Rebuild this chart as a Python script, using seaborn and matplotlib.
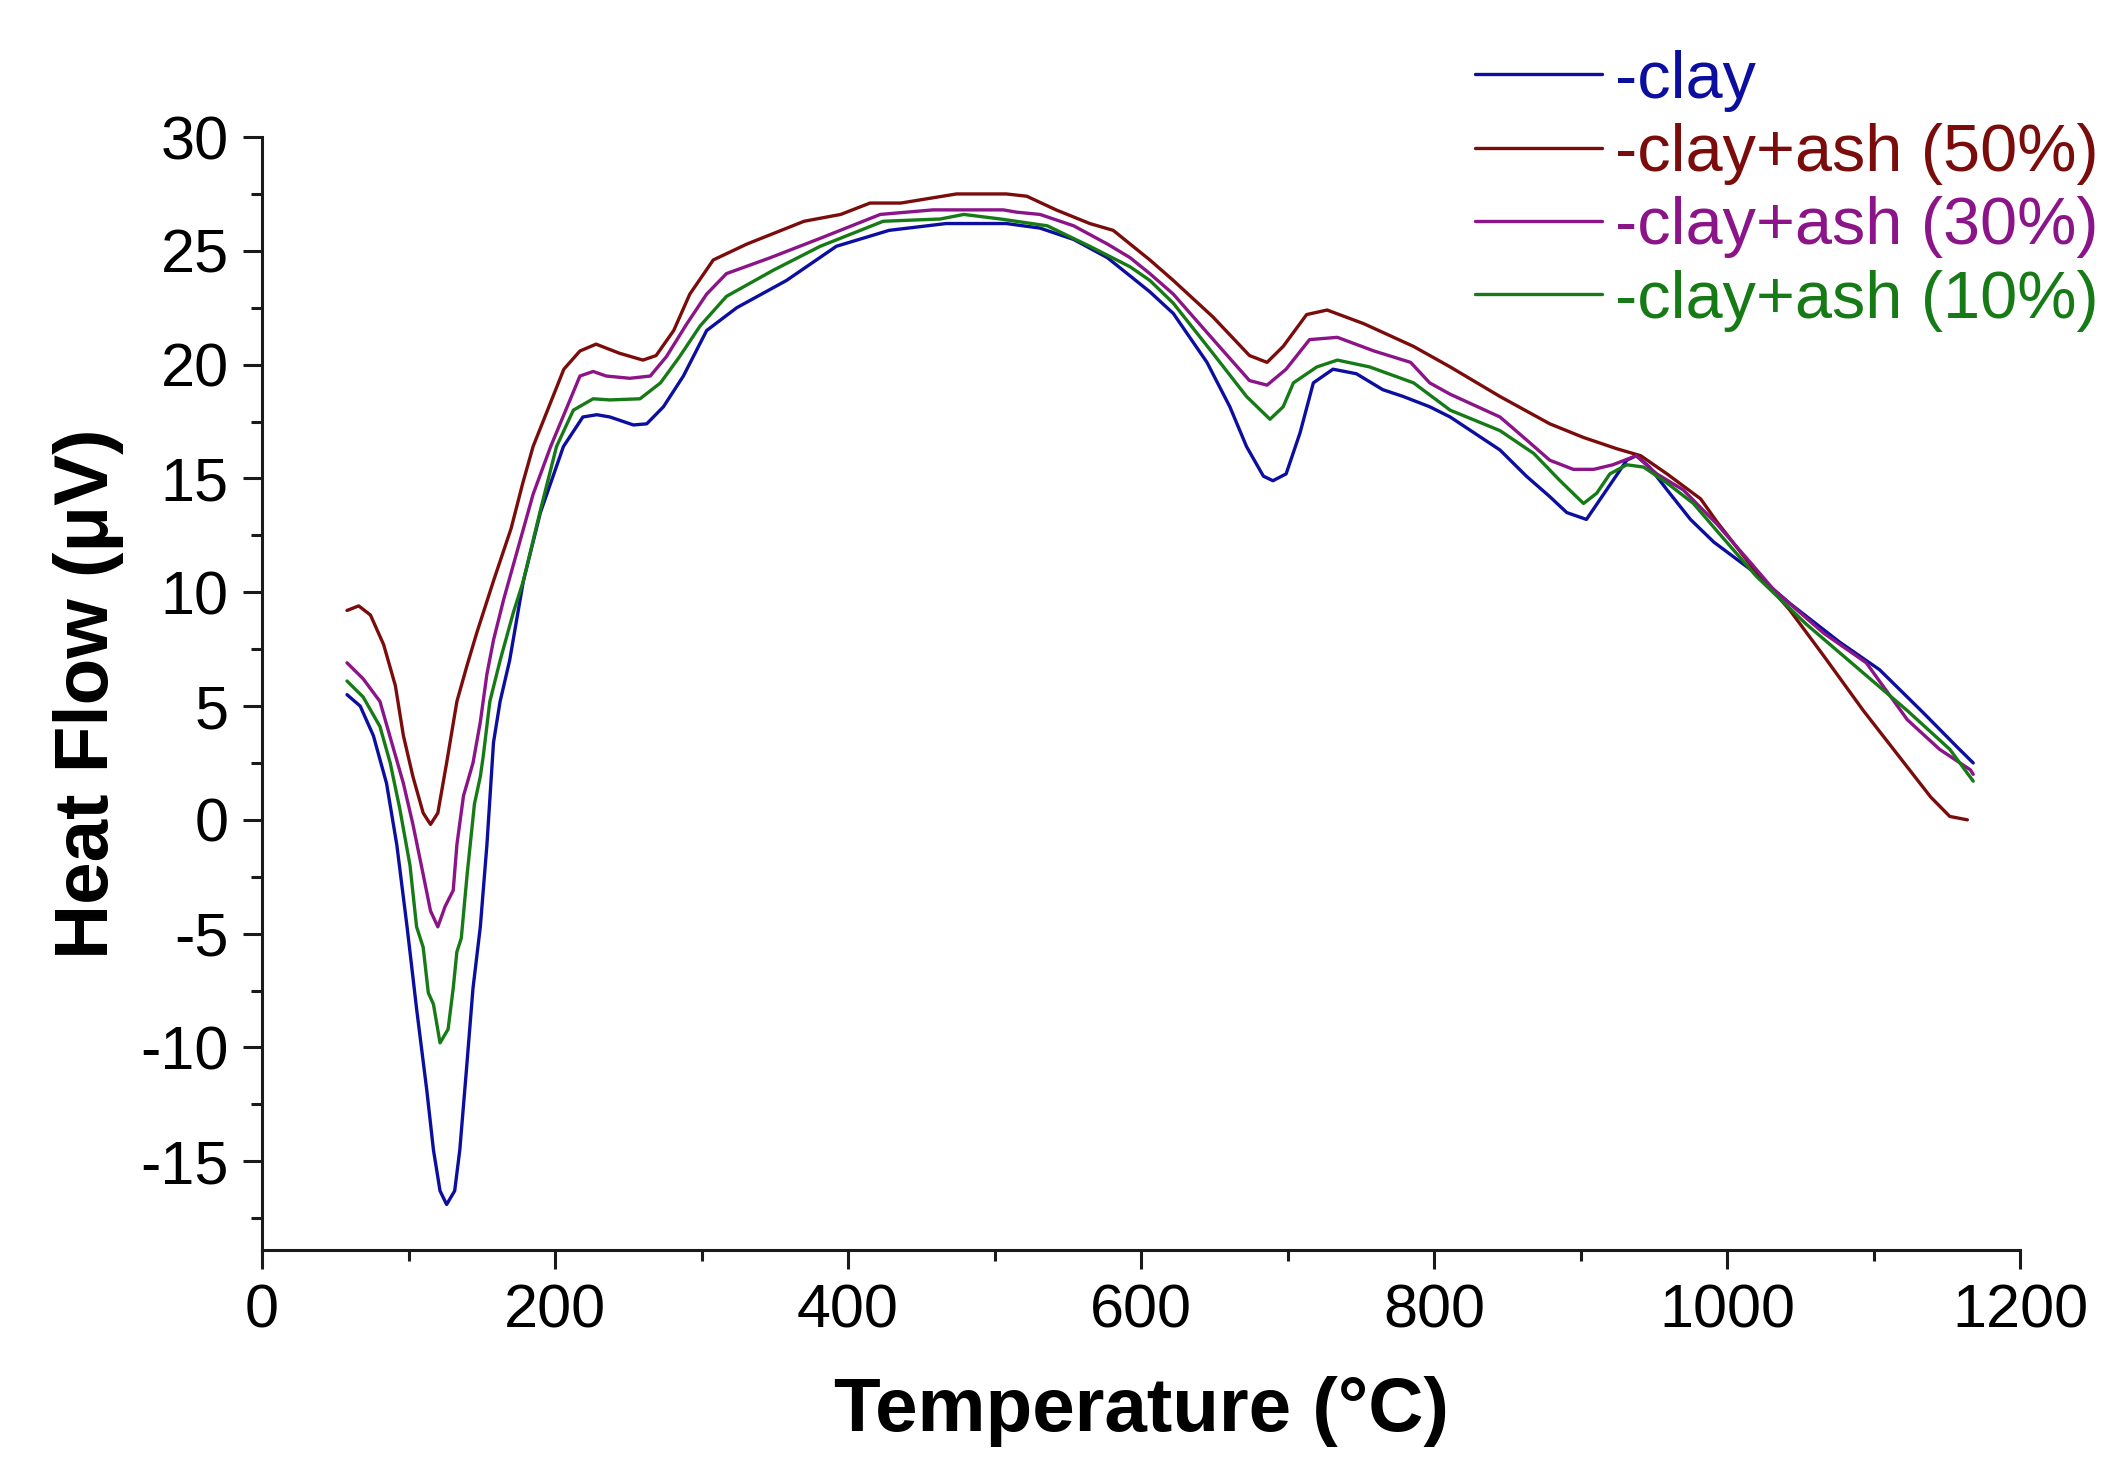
import seaborn as sns
import matplotlib.pyplot as plt
import pandas as pd

# temperatures (deg C) and heat flow readings (uV)
temp_clay = [58, 67, 76, 85, 92, 99, 105.5, 112.5, 117, 121.5, 126, 131.5, 135, 139.5, 144, 149,
             153.5, 158, 162.5, 169, 178.4, 190, 205.7, 219, 228.5, 237.5, 253.5, 262.6, 274, 287.6,
             303.5, 324, 358, 392, 428, 467, 508, 531, 554, 577, 592.5, 606, 622, 645, 660.6, 672,
             683.5, 690, 699, 708.5, 717.6, 731, 747, 765, 779, 797, 811, 845, 863, 879, 890.6, 904,
             913, 922, 931.5, 938, 947, 959, 975, 991, 1016, 1043, 1077, 1104, 1134, 1157, 1168]
hf_clay = [5.5, 5.0, 3.7, 1.6, -1.1, -4.7, -8.3, -11.9, -14.5, -16.3, -16.9, -16.3, -14.5, -11.0,
           -7.4, -4.7, -1.1, 3.4, 5.2, 7.0, 10.5, 13.5, 16.4, 17.7, 17.8, 17.7, 17.35, 17.4, 18.15,
           19.5, 21.5, 22.5, 23.7, 25.2, 25.9, 26.2, 26.2, 26.0, 25.5, 24.7, 23.9, 23.2, 22.25, 20.1,
           18.15, 16.4, 15.1, 14.9, 15.2, 17.0, 19.2, 19.8, 19.6, 18.9, 18.6, 18.15, 17.7, 16.25,
           15.1, 14.2, 13.5, 13.2, 14.05, 14.9, 15.8, 16.0, 15.5, 14.5, 13.2, 12.2, 11.0, 9.5, 7.8,
           6.6, 4.7, 3.2, 2.5]

temp_ash50 = [58, 66, 74, 83, 91, 96.5, 103, 110, 115, 120, 126, 133, 140, 146.5, 153, 158, 170,
              178, 185, 206, 217, 228, 244, 260, 269, 281, 292, 308, 331, 370, 395, 415, 436, 474,
              508, 522, 542, 565, 581, 606, 622, 649, 674, 686, 697, 713, 727, 752, 786, 811, 845,
              879, 902, 925, 941, 959, 982, 993, 1016, 1043, 1066, 1093, 1116, 1139, 1152, 1164]
hf_ash50 = [9.2, 9.4, 9.0, 7.7, 5.9, 3.7, 1.9, 0.3, -0.2, 0.3, 2.5, 5.2, 6.8, 8.2, 9.5, 10.5, 12.8,
            14.8, 16.4, 19.8, 20.6, 20.9, 20.5, 20.2, 20.4, 21.5, 23.1, 24.6, 25.3, 26.3, 26.6, 27.1,
            27.1, 27.5, 27.5, 27.4, 26.8, 26.2, 25.9, 24.6, 23.7, 22.1, 20.4, 20.1, 20.8, 22.2, 22.4,
            21.8, 20.8, 19.9, 18.6, 17.4, 16.8, 16.3, 16.0, 15.2, 14.1, 13.1, 11.2, 9.2, 7.2, 4.8,
            2.9, 1.0, 0.15, 0.0]

temp_ash30 = [58, 69, 80.5, 88.5, 96.5, 103, 110, 115, 120, 125, 130.5, 133, 137.5, 144, 149, 153.5,
              158, 165, 175, 185, 197, 217, 226, 235, 251, 265, 276, 290, 303.5, 317, 347, 381, 422,
              458, 506, 515, 531, 554, 577, 592.5, 606, 622, 652, 674, 686, 699, 715, 734, 759, 784,
              797, 811, 845, 863, 879, 895, 909, 922, 938, 952, 970, 993, 1016, 1032, 1066, 1095,
              1123, 1145, 1166, 1168]
hf_ash30 = [6.9, 6.2, 5.2, 3.4, 1.6, -0.2, -2.4, -4.0, -4.7, -3.8, -3.1, -1.1, 1.05, 2.5, 4.3, 6.4,
            7.9, 9.7, 12.0, 14.3, 16.4, 19.5, 19.7, 19.5, 19.4, 19.5, 20.35, 21.8, 23.1, 24.0, 24.7,
            25.55, 26.6, 26.8, 26.8, 26.7, 26.6, 26.1, 25.3, 24.7, 24.0, 23.1, 20.9, 19.3, 19.1,
            19.8, 21.1, 21.2, 20.6, 20.1, 19.2, 18.7, 17.7, 16.7, 15.8, 15.4, 15.4, 15.6, 16.0, 15.2,
            14.5, 13.0, 11.3, 10.1, 8.2, 6.9, 4.4, 3.1, 2.2, 2.0]

temp_ash10 = [58, 69, 80.5, 87.5, 94, 101, 105.5, 110, 113.5, 117, 121.5, 127, 130.5, 133, 136, 140,
              145, 149, 151, 155.5, 162.5, 171.5, 178.4, 190, 201, 212.5, 226, 237.5, 258, 272, 285,
              299, 317, 349, 381, 424, 463, 479, 504, 536, 565, 592.5, 606, 622, 649, 672, 688, 697,
              704, 720, 734, 756, 786, 811, 845, 868, 886, 902, 911, 920, 931.5, 943, 959, 977, 993,
              1020, 1054, 1088.5, 1123, 1152, 1168]
hf_ash10 = [6.1, 5.4, 4.1, 2.5, 0.5, -2.0, -4.7, -5.6, -7.6, -8.1, -9.8, -9.2, -7.4, -5.8, -5.2,
            -2.4, 0.7, 1.9, 2.8, 5.2, 7.0, 9.1, 10.5, 13.6, 16.4, 18.0, 18.5, 18.45, 18.5, 19.2, 20.35,
            21.7, 23.0, 24.15, 25.2, 26.3, 26.4, 26.6, 26.4, 26.1, 25.2, 24.3, 23.7, 22.7, 20.5, 18.6,
            17.6, 18.15, 19.2, 19.9, 20.2, 19.9, 19.2, 18.0, 17.1, 16.1, 14.9, 13.9, 14.35, 15.2,
            15.6, 15.5, 14.8, 13.9, 12.7, 10.7, 8.6, 6.7, 4.8, 3.1, 1.7]

labels = ["-clay", "-clay+ash (50%)", "-clay+ash (30%)", "-clay+ash (10%)"]
colors = ["#0c0ea0", "#7a0c0c", "#8a1488", "#167a16"]


def main():
    frames = []
    for lab, t, v in zip(labels, [temp_clay, temp_ash50, temp_ash30, temp_ash10],
                         [hf_clay, hf_ash50, hf_ash30, hf_ash10]):
        frames.append(pd.DataFrame({"T": t, "HF": v, "sample": lab}))
    df = pd.concat(frames, ignore_index=True)

    sns.set_style("ticks")
    plt.rcParams['font.family'] = ['Liberation Sans', 'DejaVu Sans']
    plt.rcParams['axes.unicode_minus'] = False

    fig = plt.figure(figsize=(21.08, 14.8), dpi=100)
    ax = fig.add_axes([0.1243, 0.1554, 0.834, 0.752])

    sns.lineplot(data=df, x="T", y="HF", hue="sample", hue_order=labels,
                 palette=colors, sort=False, estimator=None, linewidth=2.4, ax=ax, legend=False)

    ax.set_xlim(0, 1200)
    ax.set_ylim(-18.9, 30)
    ax.set_xticks(range(0, 1201, 200))
    ax.set_xticks(range(100, 1200, 200), minor=True)
    ax.set_yticks(range(-15, 31, 5))
    ax.set_yticks([-17.5 + 5 * i for i in range(10)], minor=True)
    sns.despine(ax=ax)
    for s in ["left", "bottom"]:
        ax.spines[s].set_linewidth(2.2)
        ax.spines[s].set_color("#1a1a1a")
    ax.tick_params(which="major", length=14, width=2.2, labelsize=44, color="#1a1a1a",
                   labelcolor="black", pad=10)
    ax.tick_params(which="minor", length=8, width=2.2, color="#1a1a1a")

    ax.set_xlabel("Temperature (°C)", fontsize=55, fontweight="bold", labelpad=26, color="black")
    ax.set_ylabel("Heat Flow (μV)", fontsize=55, fontweight="bold", labelpad=12, color="black")

    handles = [plt.Line2D([], [], color=c, lw=2.4) for c in colors]
    fig.legend(handles, labels, loc="upper left", bbox_to_anchor=(0.684, 0.989),
               bbox_transform=fig.transFigure, frameon=False, fontsize=48,
               handlelength=1.9, handletextpad=0.2, labelspacing=0.17,
               borderpad=0, labelcolor="linecolor")

    fig.savefig("out.png", dpi=100)


if __name__ == "__main__":
    main()
